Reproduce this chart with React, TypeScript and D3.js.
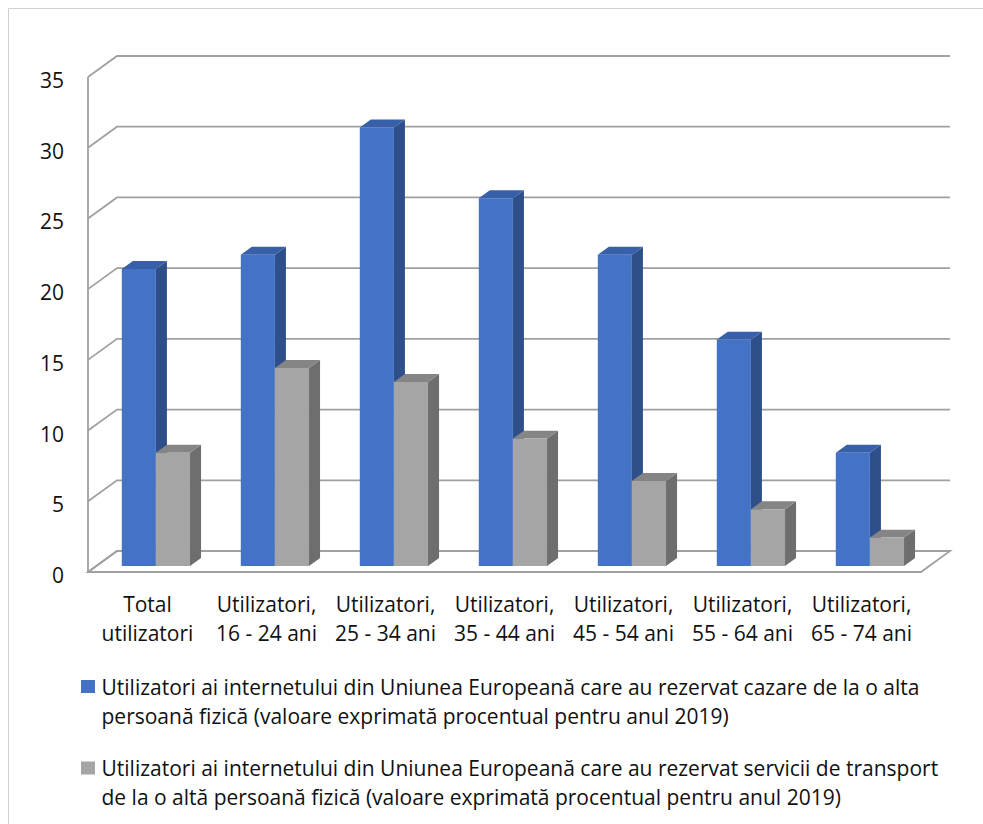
import React from "react";
import * as d3 from "d3";

const categories: string[][] = [
  ["Total", "utilizatori"],
  ["Utilizatori,", "16 - 24 ani"],
  ["Utilizatori,", "25 - 34 ani"],
  ["Utilizatori,", "35 - 44 ani"],
  ["Utilizatori,", "45 - 54 ani"],
  ["Utilizatori,", "55 - 64 ani"],
  ["Utilizatori,", "65 - 74 ani"],
];
const cazare = [21, 22, 31, 26, 22, 16, 8];
const transport = [8, 14, 13, 9, 6, 4, 2];
const yTicks = [0, 5, 10, 15, 20, 25, 30, 35];
const legendLines: string[][] = [
  [
    "Utilizatori ai internetului din Uniunea Europeană care au rezervat cazare de la o alta",
    "persoană fizică (valoare exprimată procentual pentru anul 2019)",
  ],
  [
    "Utilizatori ai internetului din Uniunea Europeană care au rezervat servicii de transport",
    "de la o altă persoană fizică (valoare exprimată procentual pentru anul 2019)",
  ],
];

const W = 983;
const H = 824;
const FONT = "'Open Sans', 'Noto Sans', sans-serif";
const FS = 21;

const seriesStyle = [
  { front: "#4472C4", side: "#2E4F8A", top: "#3760A8" },
  { front: "#A5A5A5", side: "#6E6E6E", top: "#858585" },
];

export default function App() {
  const left = 88;
  const right = 921;
  const depthX = 29;
  const depthY = -21;
  const y = d3.scaleLinear().domain([0, 35]).range([572, 77]);
  const x0 = d3
    .scaleBand<number>()
    .domain(categories.map((_, i) => i))
    .range([left, right])
    .padding(0);
  const x1 = d3
    .scaleBand<number>()
    .domain([0, 1])
    .range([0, x0.bandwidth()])
    .paddingInner(0)
    .paddingOuter(0.744);

  const proj = (x: number, yy: number, d: number): [number, number] => [
    x + depthX * d,
    yy + depthY * d,
  ];
  const pts = (arr: [number, number][]) => arr.map((p) => p.join(",")).join(" ");

  const d1 = 0.29;
  const d2 = 0.67;
  const gridColor = "#A0A0A0";

  const bars: JSX.Element[] = [];
  categories.forEach((_, i) => {
    [cazare[i], transport[i]].forEach((v, s) => {
      const st = seriesStyle[s];
      const xl = (x0(i) as number) + (x1(s) as number);
      const xr = xl + x1.bandwidth();
      const yt = y(v);
      const yb = y(0);
      const fTL = proj(xl, yt, d1);
      const fTR = proj(xr, yt, d1);
      const fBR = proj(xr, yb, d1);
      const fBL = proj(xl, yb, d1);
      const bTL = proj(xl, yt, d2);
      const bTR = proj(xr, yt, d2);
      const bBR = proj(xr, yb, d2);
      bars.push(
        <g key={`b-${i}-${s}`}>
          <polygon points={pts([fTR, bTR, bBR, fBR])} fill={st.side} />
          <polygon points={pts([fTL, bTL, bTR, fTR])} fill={st.top} />
          <polygon points={pts([fTL, fTR, fBR, fBL])} fill={st.front} />
        </g>
      );
    });
  });

  return (
    <div style={{ position: "absolute", left: 0, top: 0, width: W, height: H, overflow: "hidden" }}>
      <svg width={W} height={H} style={{ display: "block", background: "#fff" }}>
        <path
          d={`M8.5,${H + 2} L8.5,8.5 L${W + 2},8.5`}
          fill="none"
          stroke="#D0D0D0"
          strokeWidth={1}
        />
        {/* back wall and side wall gridlines */}
        {yTicks.map((t) => {
          const fl = proj(left, y(t), 0);
          const bl = proj(left, y(t), 1);
          const br = proj(right, y(t), 1);
          return (
            <polyline
              key={`g-${t}`}
              points={pts([fl, bl, br])}
              fill="none"
              stroke={gridColor}
              strokeWidth={1.8}
            />
          );
        })}
        {/* floor */}
        <polygon
          points={pts([
            proj(left, y(0), 0),
            proj(right, y(0), 0),
            proj(right, y(0), 1),
            proj(left, y(0), 1),
          ])}
          fill="none"
          stroke={gridColor}
          strokeWidth={1.8}
        />
        {/* vertical axis line */}
        <line x1={left} x2={left} y1={y(35)} y2={y(0)} stroke={gridColor} strokeWidth={1.8} />
        {bars}
        {/* y tick labels */}
        {yTicks.map((t) => (
          <text
            key={`t-${t}`}
            x={64}
            y={y(t) + 3}
            textAnchor="end"
            dominantBaseline="central"
            fontFamily={FONT}
            fontSize={FS}
            fill="#111"
          >
            {t}
          </text>
        ))}
        {/* category labels */}
        {categories.map((lines, i) => (
          <text
            key={`c-${i}`}
            x={(x0(i) as number) + x0.bandwidth() / 2}
            textAnchor="middle"
            fontFamily={FONT}
            fontSize={FS}
            fill="#111"
          >
            {lines.map((l, j) => (
              <tspan key={j} x={(x0(i) as number) + x0.bandwidth() / 2} y={612 + j * 29}>
                {l}
              </tspan>
            ))}
          </text>
        ))}
        {/* legend */}
        {legendLines.map((lines, s) => {
          const top = 680 + s * 81.5;
          return (
            <g key={`l-${s}`}>
              <rect x={81} y={top} width={14} height={13} fill={seriesStyle[s].front} />
              <text fontFamily={FONT} fontSize={FS} fill="#111">
                {lines.map((l, j) => (
                  <tspan key={j} x={101.5} y={top + 14.5 + j * 29.3}>
                    {l}
                  </tspan>
                ))}
              </text>
            </g>
          );
        })}
      </svg>
    </div>
  );
}
